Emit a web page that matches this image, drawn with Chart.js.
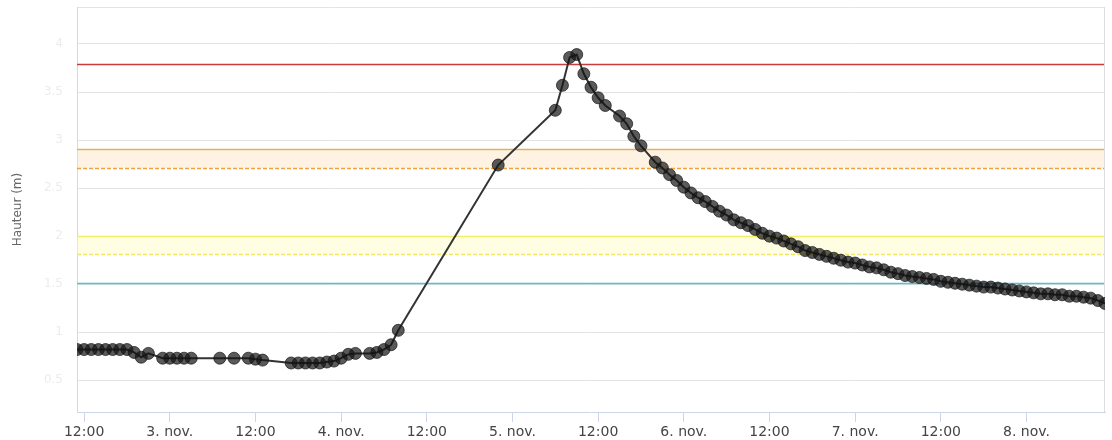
<!DOCTYPE html>
<html>
<head>
<meta charset="utf-8">
<script src="https://cdn.jsdelivr.net/npm/chart.js@4/dist/chart.umd.min.js"></script>
<style>
  html, body { margin: 0; padding: 0; background: #fff; }
</style>
</head>
<body>
<canvas id="hauteur" width="1112" height="440"></canvas>
<script>
// heures depuis le 2 nov. 00:00
const heures = [
  11, 12, 13, 14, 15, 16, 17, 18, 19, 20, 21,
  23, 24, 25, 26, 27,
  31, 33, 35, 36, 37,
  41, 42, 43, 44, 45, 46, 47, 48, 49, 50, 52, 53, 54, 55, 56,
  70, 78, 79, 80, 81, 82, 83, 84, 85, 87, 88, 89, 90, 92, 93, 94,
  95, 96, 97, 98, 99, 100, 101, 102, 103, 104, 105, 106, 107, 108, 109, 110,
  111, 112, 113, 114, 115, 116, 117, 118, 119, 120, 121, 122, 123, 124, 125,
  126, 127, 128, 129, 130, 131, 132, 133, 134, 135, 136, 137, 138, 139, 140,
  141, 142, 143, 144, 145, 146, 147, 148, 149, 150, 151, 152, 153, 154, 155
];

const hauteurs = [
  0.82, 0.82, 0.82, 0.82, 0.82, 0.82, 0.82, 0.82, 0.79, 0.74, 0.78,
  0.73, 0.73, 0.73, 0.73, 0.73,
  0.73, 0.73, 0.73, 0.72, 0.71,
  0.68, 0.68, 0.68, 0.68, 0.68, 0.69, 0.70, 0.73, 0.77, 0.78, 0.78, 0.79, 0.82, 0.87, 1.02,
  2.74, 3.31, 3.57, 3.86, 3.89, 3.69, 3.55, 3.44, 3.36, 3.25, 3.17, 3.04, 2.94, 2.77, 2.71, 2.64,
  2.58, 2.51, 2.45, 2.40, 2.36, 2.31, 2.26, 2.22, 2.17, 2.14, 2.11, 2.07, 2.03, 2.00, 1.98, 1.95,
  1.92, 1.89, 1.85, 1.83, 1.81, 1.79, 1.77, 1.75, 1.73, 1.72, 1.70, 1.68, 1.67, 1.65, 1.625,
  1.61, 1.59, 1.58, 1.57, 1.56, 1.55, 1.53, 1.52, 1.51, 1.50, 1.49, 1.48, 1.47, 1.47, 1.46,
  1.45, 1.44, 1.43, 1.42, 1.41, 1.40, 1.40, 1.39, 1.39, 1.375, 1.375, 1.365, 1.355, 1.33, 1.30
];

const xTicks = [12, 24, 36, 48, 60, 72, 84, 96, 108, 120, 132, 144];
const xTickLabels = ['12:00', '3. nov.', '12:00', '4. nov.', '12:00', '5. nov.',
  '12:00', '6. nov.', '12:00', '7. nov.', '12:00', '8. nov.'];

const yTicks = [0.5, 1, 1.5, 2, 2.5, 3, 3.5, 4];
const yTickLabels = ['0.5', '1', '1.5', '2', '2.5', '3', '3.5', '4'];

// seuils
const seuilRouge = 3.79;
const bandeOrange = [2.71, 2.91];
const bandeJaune = [1.81, 2.0];
const seuilCyan = 1.51;

const xMin = 11, xMax = 155;
const yMin = 0.17, yMax = 4.385;

const points = heures.map((h, i) => ({ x: h, y: hauteurs[i] }));

const seuilsPlugin = {
  id: 'seuils',
  beforeDatasetsDraw(chart) {
    const { ctx, chartArea: a, scales: { y } } = chart;
    ctx.save();
    ctx.beginPath();
    ctx.rect(a.left, a.top, a.right - a.left, a.bottom - a.top);
    ctx.clip();

    function band(lims, fill) {
      const y1 = y.getPixelForValue(lims[1]);
      const y0 = y.getPixelForValue(lims[0]);
      ctx.fillStyle = fill;
      ctx.fillRect(a.left, y1, a.right - a.left, y0 - y1);
    }
    function line(v, color, dash) {
      const py = Math.round(y.getPixelForValue(v)) + 0.5;
      ctx.strokeStyle = color;
      ctx.lineWidth = 1.5;
      ctx.setLineDash(dash || []);
      ctx.beginPath();
      ctx.moveTo(a.left, py);
      ctx.lineTo(a.right, py);
      ctx.stroke();
    }
    band(bandeOrange, 'rgba(252, 226, 190, 0.45)');
    band(bandeJaune, 'rgba(255, 252, 190, 0.45)');
    line(seuilRouge, '#cc3b3b');
    line(bandeOrange[1], '#ddb264');
    line(bandeOrange[0], '#f2a23c', [4, 2]);
    line(bandeJaune[1], '#f3ee63');
    line(bandeJaune[0], '#efe56a', [4, 2]);
    line(seuilCyan, '#4cc4d2');
    ctx.restore();
  }
};

const cadrePlugin = {
  id: 'cadre',
  beforeDatasetsDraw(chart) {
    const { ctx, chartArea: a } = chart;
    ctx.save();
    ctx.strokeStyle = '#dcdcdc';
    ctx.lineWidth = 1;
    ctx.beginPath();
    ctx.moveTo(a.right - 0.5, a.top);
    ctx.lineTo(a.right - 0.5, a.bottom);
    ctx.stroke();
    ctx.restore();
  }
};

new Chart(document.getElementById('hauteur'), {
  type: 'line',
  data: {
    datasets: [{
      label: 'Hauteur',
      data: points,
      borderColor: '#333',
      borderWidth: 2,
      tension: 0,
      pointRadius: 6,
      pointBackgroundColor: 'rgba(20, 20, 20, 0.7)',
      pointBorderColor: 'rgba(20, 20, 20, 0.7)',
      pointBorderWidth: 1
    }]
  },
  options: {
    responsive: false,
    animation: false,
    devicePixelRatio: 1,
    layout: { padding: { top: 7, right: -4, left: 0, bottom: 0 } },
    plugins: {
      legend: { display: false },
      tooltip: { enabled: false }
    },
    scales: {
      x: {
        type: 'linear',
        min: xMin,
        max: xMax,
        afterBuildTicks: (axis) => { axis.ticks = xTicks.map(v => ({ value: v })); },
        afterFit: (axis) => {
          axis.height = 28;
          axis.paddingLeft = 0;
          axis.paddingRight = 0;
        },
        grid: { drawOnChartArea: false, drawTicks: true, tickLength: 10, color: '#ccd6eb' },
        border: { color: '#ccd6eb' },
        ticks: {
          autoSkip: false,
          maxRotation: 0,
          padding: 2,
          color: '#444',
          font: { family: 'DejaVu Sans', size: 14 },
          callback: (v) => {
            const i = xTicks.indexOf(v);
            return i >= 0 ? xTickLabels[i] : '';
          }
        }
      },
      y: {
        min: yMin,
        max: yMax,
        afterBuildTicks: (axis) => {
          axis.ticks = yTicks.map(v => ({ value: v })).concat([{ value: yMax }]);
        },
        afterFit: (axis) => {
          axis.width = 77;
          axis.paddingTop = 0;
          axis.paddingBottom = 0;
        },
        grid: { color: '#e3e3e3', drawTicks: false },
        border: { color: '#d8d8d8' },
        ticks: {
          padding: 14,
          color: '#ececec',
          font: { family: 'DejaVu Sans', size: 12 },
          callback: (v) => {
            const i = yTicks.indexOf(v);
            return i >= 0 ? yTickLabels[i] : '';
          }
        },
        title: {
          display: true,
          text: 'Hauteur (m)',
          color: '#666',
          padding: { top: 11, bottom: 0 },
          font: { family: 'DejaVu Sans', size: 12 }
        }
      }
    }
  },
  plugins: [seuilsPlugin, cadrePlugin]
});
</script>
</body>
</html>
